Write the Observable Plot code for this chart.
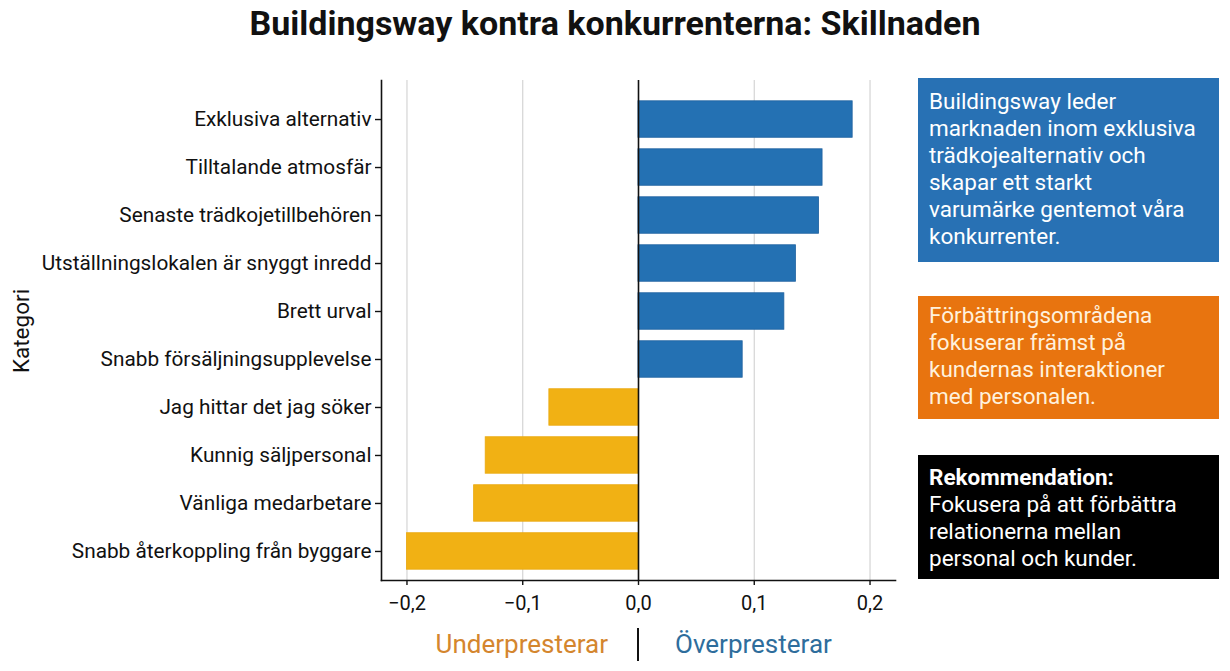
<!DOCTYPE html>
<html>
<head>
<meta charset="utf-8">
<script src="https://cdn.jsdelivr.net/npm/d3@7"></script>
<script src="https://cdn.jsdelivr.net/npm/@observablehq/plot@0.6"></script>
<style>
  html, body { margin: 0; padding: 0; background: #fff; }
  #root { position: relative; width: 1230px; height: 671px; overflow: hidden; font-family: Roboto, "Noto Sans", sans-serif; }
  #title { position: absolute; left: 0; width: 1230px; top: 3px; text-align: center; font-weight: 700; font-size: 34px; line-height: normal; color: #111; }
  #chart { position: absolute; left: 0; top: 0; }
  #ylabel { position: absolute; left: 21px; top: 331px; transform: translate(-50%, -50%) rotate(-90deg); font-size: 22.5px; color: #111; white-space: nowrap; }
  .box { position: absolute; left: 918px; width: 301px; box-sizing: border-box; padding-left: 11px; font-size: 22.5px; line-height: 27px; white-space: nowrap; }
  #under { position: absolute; right: 622px; top: 629px; font-size: 26px; line-height: normal; color: #d4862e; }
  #over { position: absolute; left: 675px; top: 629px; font-size: 26px; line-height: normal; color: #2e6d9c; }
  #sep { position: absolute; left: 637px; top: 628px; width: 2px; height: 33px; background: #111; }
</style>
</head>
<body>
<div id="root">
  <div id="title"></div>
  <div id="chart"></div>
  <div id="ylabel">Kategori</div>
  <div id="under"></div>
  <div id="sep"></div>
  <div id="over"></div>
</div>
<script>
// Categories, top to bottom, with their difference versus competitors
const categories = [
  "Exklusiva alternativ",
  "Tilltalande atmosfär",
  "Senaste trädkojetillbehören",
  "Utställningslokalen är snyggt inredd",
  "Brett urval",
  "Snabb försäljningsupplevelse",
  "Jag hittar det jag söker",
  "Kunnig säljpersonal",
  "Vänliga medarbetare",
  "Snabb återkoppling från byggare"
];
const differences = [0.185, 0.159, 0.156, 0.136, 0.126, 0.090, -0.077, -0.132, -0.142, -0.200];
const xTicks = [-0.2, -0.1, 0.0, 0.1, 0.2];

const titleText = "Buildingsway kontra konkurrenterna: Skillnaden";
const underLabel = "Underpresterar";
const overLabel = "Överpresterar";

// Side notes
const notes = [
  { lines: ["Buildingsway leder", "marknaden inom exklusiva", "trädkojealternativ och", "skapar ett starkt", "varumärke gentemot våra", "konkurrenter."], bg: "#2871b4", color: "#ffffff", bold: false, top: 78, height: 184, padTop: 10 },
  { lines: ["Förbättringsområdena", "fokuserar främst på", "kundernas interaktioner", "med personalen."], bg: "#e8740f", color: "#fff1dc", bold: false, top: 296, height: 123, padTop: 6 },
  { lines: ["Rekommendation:", "Fokusera på att förbättra", "relationerna mellan", "personal och kunder."], bg: "#000000", color: "#ffffff", bold: true, top: 455, height: 124, padTop: 9 }
];

const blue = "#2471b3";
const gold = "#f1b114";

const data = categories.map((c, i) => ({ category: c, value: differences[i] }));

const fmt = d => (d < 0 ? "\u2212" : "") + Math.abs(d).toFixed(1).replace(".", ",");

const chart = Plot.plot({
  width: 900,
  height: 671,
  marginLeft: 381,
  marginRight: 5,
  marginTop: 80,
  marginBottom: 91,
  style: { fontFamily: "Roboto, 'Noto Sans', sans-serif", color: "#111", background: "transparent", overflow: "visible" },
  x: { domain: [-0.222, 0.222] },
  y: { type: "band", domain: categories, paddingInner: 0.24, paddingOuter: 0.1, insetTop: 16, insetBottom: 6, round: false },
  marks: [
    Plot.gridX(xTicks.filter(d => d !== 0), { stroke: "#d4d4d4", strokeOpacity: 1, strokeWidth: 1.2 }),
    Plot.barX(data, {
      x: "value",
      y: "category",
      fill: d => d.value >= 0 ? blue : gold,
      stroke: d => d.value >= 0 ? "#1f62a0" : "#eaa90f",
      strokeWidth: 0.8
    }),
    Plot.ruleX([0], { stroke: "#111", strokeWidth: 1.6 }),
    Plot.frame({ anchor: "left", stroke: "#111", strokeWidth: 1.6 }),
    Plot.frame({ anchor: "bottom", stroke: "#111", strokeWidth: 1.6 }),
    Plot.axisX(xTicks, { tickFormat: fmt, tickSize: 5, tickPadding: 10, fontSize: 20, label: null, strokeWidth: 1.4 }),
    Plot.axisY({ tickSize: 6, tickPadding: 4, fontSize: 20.8, label: null, strokeWidth: 1.4 })
  ]
});
document.getElementById("chart").appendChild(chart);

document.getElementById("title").textContent = titleText;
document.getElementById("under").textContent = underLabel;
document.getElementById("over").textContent = overLabel;

const root = document.getElementById("root");
notes.forEach(n => {
  const div = document.createElement("div");
  div.className = "box";
  div.style.top = n.top + "px";
  div.style.height = n.height + "px";
  div.style.paddingTop = n.padTop + "px";
  div.style.background = n.bg;
  div.style.color = n.color;
  n.lines.forEach((line, i) => {
    const l = document.createElement("div");
    l.textContent = line;
    if (n.bold && i === 0) l.style.fontWeight = "700";
    div.appendChild(l);
  });
  root.appendChild(div);
});
</script>
</body>
</html>
